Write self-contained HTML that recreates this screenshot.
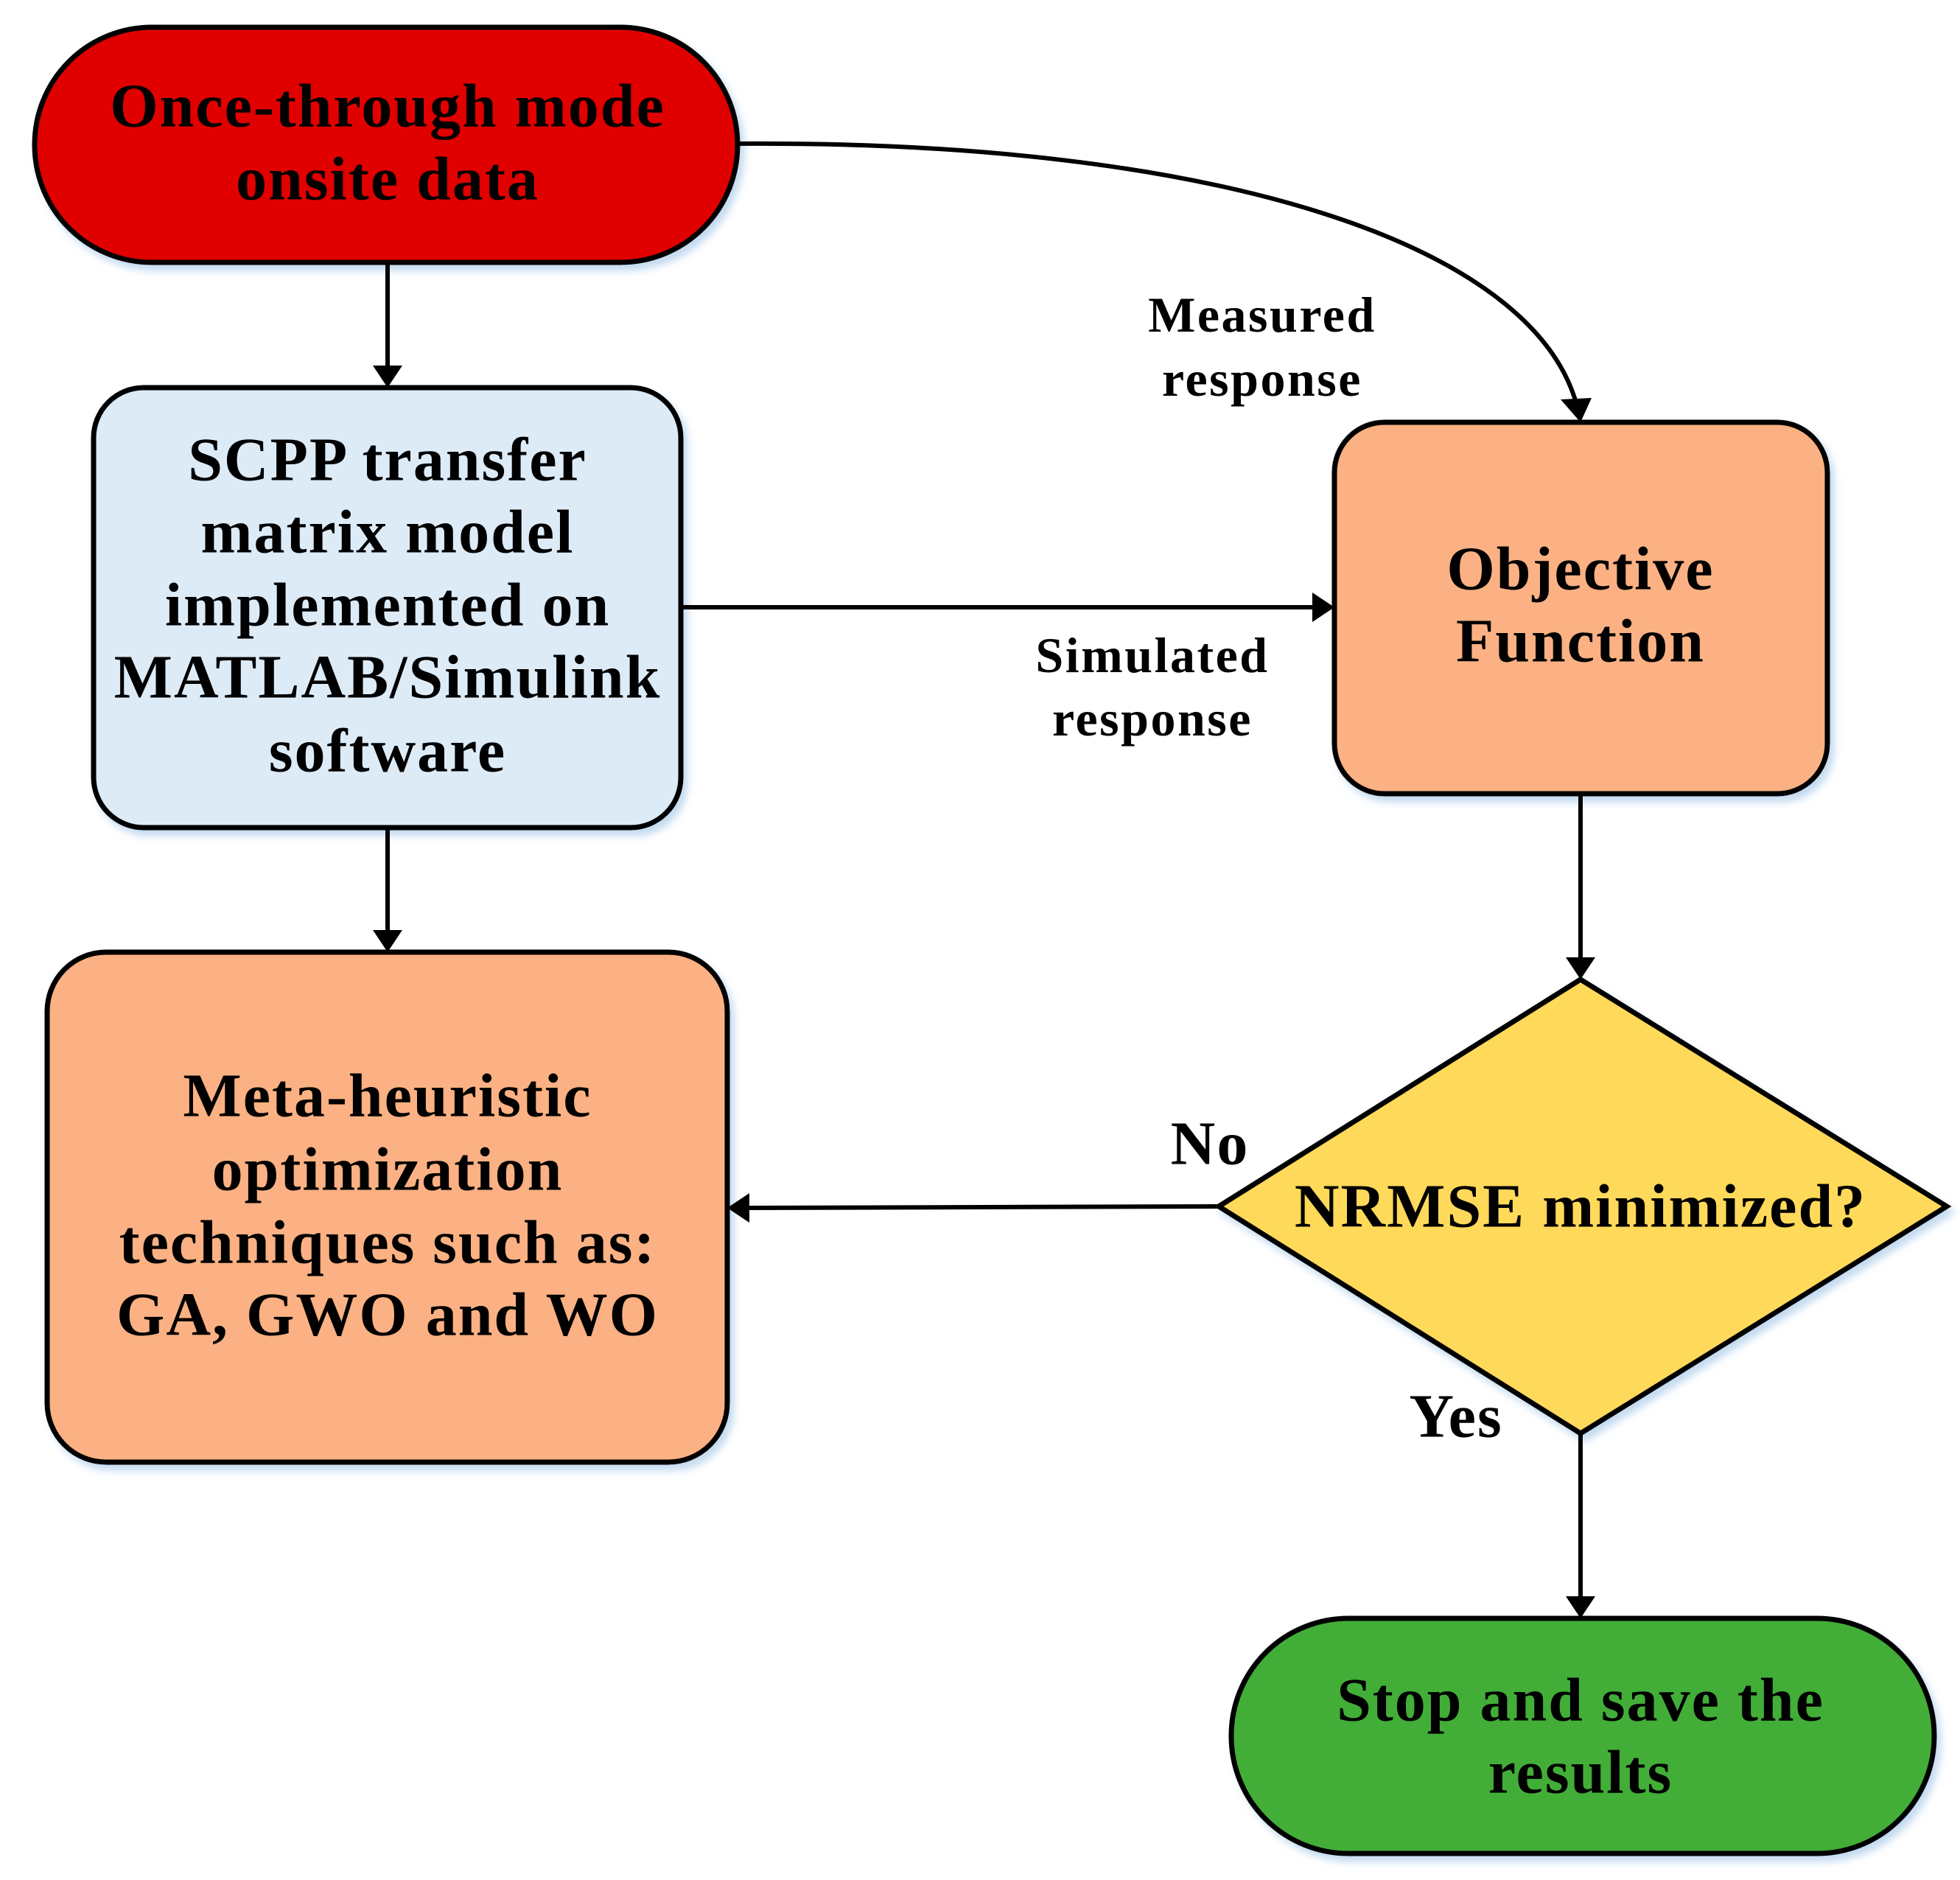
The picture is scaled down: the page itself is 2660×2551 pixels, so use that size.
<!DOCTYPE html>
<html><head><meta charset="utf-8"><style>
html,body{margin:0;padding:0;background:#fff;}
svg{display:block;}
text{font-family:"Liberation Serif","DejaVu Serif",serif;font-weight:bold;fill:#000;text-anchor:middle;dominant-baseline:central;}
</style></head><body>
<svg width="2660" height="2551" viewBox="0 0 2660 2551" xmlns="http://www.w3.org/2000/svg">
<defs>
<filter id="sh" x="-10%" y="-10%" width="130%" height="130%">
<feDropShadow dx="6" dy="8" stdDeviation="5" flood-color="#9cc3e6" flood-opacity="0.6"/>
</filter>
</defs>
<g stroke="#000" stroke-width="7" filter="url(#sh)">
<rect x="47" y="37" width="954" height="319" rx="159" fill="#e00000"/>
<rect x="127" y="526" width="797" height="597" rx="68" fill="#ddebf7"/>
<rect x="64" y="1292" width="923" height="692" rx="80" fill="#fbb183"/>
<rect x="1811" y="573" width="669" height="504" rx="68" fill="#fbb183"/>
<polygon points="1654,1637 2145,1329 2642,1637 2145,1945" fill="#ffd95a" stroke-linejoin="miter"/>
<rect x="1671" y="2196" width="954" height="319" rx="159" fill="#43ae38"/>
</g>
<g stroke="#000" stroke-width="6" fill="none">
<line x1="526" y1="356" x2="526" y2="500"/>
<line x1="526" y1="1123" x2="526" y2="1266"/>
<line x1="924" y1="824" x2="1785" y2="824"/>
<path d="M1001,195 C1650,190 2080,330 2140,550"/>
<line x1="2145" y1="1077" x2="2145" y2="1303"/>
<line x1="1654" y1="1637" x2="1013" y2="1639"/>
<line x1="2145" y1="1945" x2="2145" y2="2170"/>
</g>
<g fill="#000">
<polygon points="506,496 546,496 526,526"/>
<polygon points="506,1262 546,1262 526,1292"/>
<polygon points="1781,804 1781,844 1811,824"/>
<polygon points="2118,542 2160,540 2145,573"/>
<polygon points="2125,1299 2165,1299 2145,1329"/>
<polygon points="1017,1619 1017,1659 987,1639"/>
<polygon points="2125,2166 2165,2166 2145,2196"/>
</g>
<g font-size="84" letter-spacing="2">
<text x="526" y="144">Once-through mode</text>
<text x="526" y="243">onsite data</text>
<text x="526" y="624">SCPP transfer</text>
<text x="526" y="722">matrix model</text>
<text x="526" y="821">implemented on</text>
<text x="526" y="919">MATLAB/Simulink</text>
<text x="526" y="1019">software</text>
<text x="2145" y="772">Objective</text>
<text x="2145" y="870">Function</text>
<text x="526" y="1487">Meta-heuristic</text>
<text x="526" y="1587">optimization</text>
<text x="526" y="1686">techniques such as:</text>
<text x="526" y="1784">GA, GWO and WO</text>
<text x="2145" y="1637">NRMSE minimized?</text>
<text x="2145" y="2307">Stop and save the</text>
<text x="2145" y="2405">results</text>
<text x="1642" y="1552">No</text>
<text x="1976" y="1922">Yes</text>
</g>
<g font-size="68" letter-spacing="2.5">
<text x="1713" y="427">Measured</text>
<text x="1713" y="514">response</text>
<text x="1564" y="889">Simulated</text>
<text x="1564" y="975">response</text>
</g>
</svg>
</body></html>
